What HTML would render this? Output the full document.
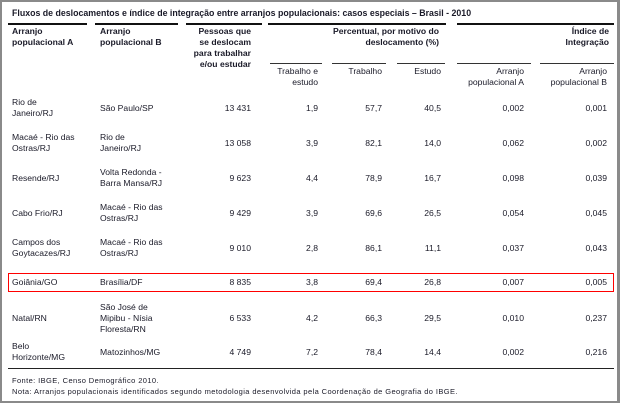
<!DOCTYPE html>
<html><head><meta charset="utf-8"><style>
body{margin:0;width:620px;height:403px;overflow:hidden;background:#fff}
#w{position:relative;border:2px solid #8a8a8a;border-right-width:3px;box-sizing:content-box;width:615px;height:399px;font-family:"Liberation Sans",sans-serif;font-size:8.6px;color:#1a1a28}
.t{position:absolute;white-space:nowrap;line-height:11px}
.r{text-align:right}
.b{font-weight:bold}
.hl{position:absolute;height:2px;background:#111;top:21px}
.sl{position:absolute;height:1px;background:#333;top:61px}
</style></head><body><div id="w">
<div class="t b" style="left:10px;top:6px;font-size:8.8px">Fluxos de deslocamentos e índice de integração entre arranjos populacionais: casos especiais – Brasil - 2010</div>
<div class="hl" style="left:6px;width:79px"></div>
<div class="hl" style="left:93px;width:83px"></div>
<div class="hl" style="left:184px;width:76px"></div>
<div class="hl" style="left:266px;width:178px"></div>
<div class="hl" style="left:455px;width:157px"></div>
<div class="t b" style="left:10px;top:24px">Arranjo<br>populacional A</div>
<div class="t b" style="left:98px;top:24px">Arranjo<br>populacional B</div>
<div class="t b r" style="right:366px;top:24px">Pessoas que<br>se deslocam<br>para trabalhar<br>e/ou estudar</div>
<div class="t b r" style="right:178px;top:24px">Percentual, por motivo do<br>deslocamento (%)</div>
<div class="t b r" style="right:8px;top:24px">Índice de<br>Integração</div>
<div class="sl" style="left:268px;width:52px"></div>
<div class="sl" style="left:330px;width:54px"></div>
<div class="sl" style="left:395px;width:48px"></div>
<div class="sl" style="left:455px;width:74px"></div>
<div class="sl" style="left:538px;width:74px"></div>
<div class="t r" style="right:299px;top:64px">Trabalho e<br>estudo</div>
<div class="t r" style="right:235px;top:64px">Trabalho</div>
<div class="t r" style="right:176px;top:64px">Estudo</div>
<div class="t r" style="right:93px;top:64px">Arranjo<br>populacional A</div>
<div class="t r" style="right:10px;top:64px">Arranjo<br>populacional B</div>

<div style="position:absolute;left:6px;top:271px;width:604px;height:17px;border:1px solid #ff0000"></div>
<div style="position:absolute;left:6px;top:366px;width:606px;height:1px;background:#222"></div>
<div class="t" style="left:10px;top:373px;font-size:7.5px;letter-spacing:0.4px">Fonte: IBGE, Censo Demográfico 2010.</div>
<div class="t" style="left:10px;top:384px;font-size:7.5px;letter-spacing:0.4px">Nota: Arranjos populacionais identificados segundo metodologia desenvolvida pela Coordenação de Geografia do IBGE.</div>

<div id="rows"></div>
</div>
<script>
var d=[
["Rio de<br>Janeiro/RJ","São Paulo/SP","13 431","1,9","57,7","40,5","0,002","0,001",106],
["Macaé - Rio das<br>Ostras/RJ","Rio de<br>Janeiro/RJ","13 058","3,9","82,1","14,0","0,062","0,002",141],
["Resende/RJ","Volta Redonda -<br>Barra Mansa/RJ","9 623","4,4","78,9","16,7","0,098","0,039",176],
["Cabo Frio/RJ","Macaé - Rio das<br>Ostras/RJ","9 429","3,9","69,6","26,5","0,054","0,045",211],
["Campos dos<br>Goytacazes/RJ","Macaé - Rio das<br>Ostras/RJ","9 010","2,8","86,1","11,1","0,037","0,043",246],
["Goiânia/GO","Brasília/DF","8 835","3,8","69,4","26,8","0,007","0,005",280],
["Natal/RN","São José de<br>Mipibu - Nísia<br>Floresta/RN","6 533","4,2","66,3","29,5","0,010","0,237",316],
["Belo<br>Horizonte/MG","Matozinhos/MG","4 749","7,2","78,4","14,4","0,002","0,216",350]];
var R=[366,299,235,176,93,10],h="";
d.forEach(function(r){var y=r[8];
function c(txt,st){var n=(txt.match(/<br>/g)||[]).length+1;return '<div class="t" style="'+st+';top:'+(y-n*5.5)+'px">'+txt+'</div>';}
h+=c(r[0],"left:10px")+c(r[1],"left:98px");
for(var i=0;i<6;i++)h+=c(r[2+i],"right:"+R[i]+"px;text-align:right");});
document.getElementById("rows").innerHTML=h;
</script>
</body></html>
